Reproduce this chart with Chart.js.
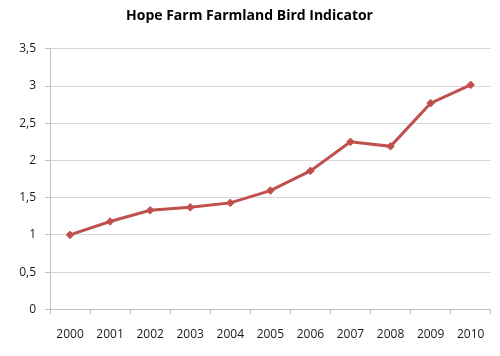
<!DOCTYPE html>
<html><head><meta charset="utf-8">
<script src="https://cdn.jsdelivr.net/npm/chart.js@4"></script>
<style>html,body{margin:0;padding:0;background:#fff}#wrap{width:500px;height:356px}</style>
</head><body><div id="wrap"><canvas id="c" width="500" height="356"></canvas></div>
<script>
const title = 'Hope Farm Farmland Bird Indicator';
const years = ['2000','2001','2002','2003','2004','2005','2006','2007','2008','2009','2010'];
const indicator = [1.0, 1.18, 1.33, 1.37, 1.43, 1.595, 1.86, 2.25, 2.19, 2.77, 3.015];
const yTicks = [0, 0.5, 1, 1.5, 2, 2.5, 3, 3.5];

new Chart(document.getElementById('c'), {
  type: 'line',
  data: { labels: years, datasets: [{
    data: indicator,
    borderColor: '#C0504D', backgroundColor: '#C0504D',
    borderWidth: 3, pointStyle: 'rectRot', pointRadius: 3.8, pointHoverRadius: 3.8,
    pointBorderWidth: 1,
    tension: 0, fill: false
  }]},
  options: {
    responsive: false, animation: false,
    layout: { padding: { left: 0, right: 1, top: 0, bottom: 0 } },
    plugins: {
      legend: { display: false }, tooltip: { enabled: false },
      title: { display: true, text: title, color: '#000',
        font: { family: '"Open Sans", sans-serif', size: 14, weight: 'bold', lineHeight: 1.2 },
        padding: { top: 8, bottom: 24 } }
    },
    scales: {
      x: {
        offset: true,
        grid: { offset: true, drawOnChartArea: false, drawTicks: true, tickLength: 5, color: '#BFBFBF' },
        border: { color: '#BFBFBF' },
        ticks: { color: '#1a1a1a', font: { family: '"Open Sans", sans-serif', size: 12 }, padding: 13, maxRotation: 0 },
        afterFit: s => { s.height = 46.7; }
      },
      y: {
        min: 0, max: 3.5,
        afterBuildTicks: s => { s.ticks = yTicks.map(v => ({ value: v })); },
        grid: { color: '#D9D9D9', tickLength: 5, tickColor: '#BFBFBF' },
        border: { color: '#BFBFBF' },
        ticks: { color: '#1a1a1a', font: { family: '"Open Sans", sans-serif', size: 12 }, padding: 9,
          callback: v => String(v).replace('.', ',') },
        afterFit: s => { s.width = 50; }
      },
      yRight: {
        position: 'right', display: true,
        grid: { display: false }, border: { display: false },
        ticks: { display: false },
        afterFit: s => { s.width = 8.3; }
      }
    }
  }
});
</script></body></html>
